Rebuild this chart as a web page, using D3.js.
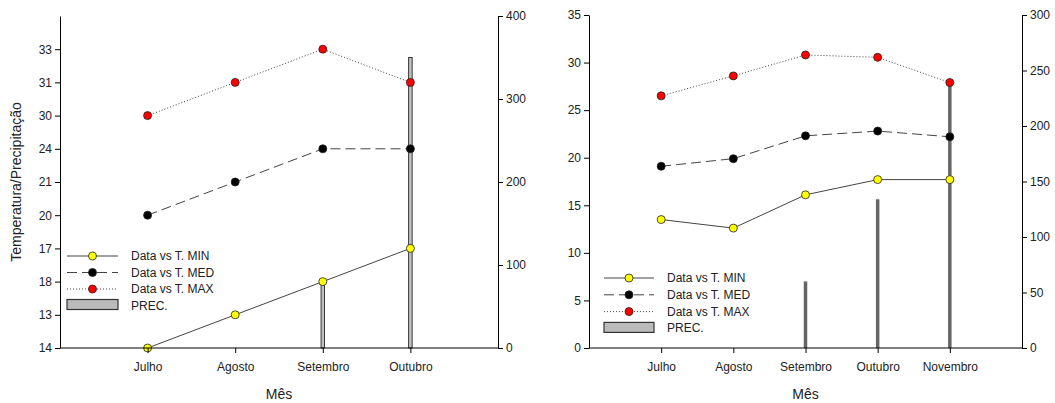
<!DOCTYPE html>
<html>
<head>
<meta charset="utf-8">
<script src="https://cdn.jsdelivr.net/npm/d3@7"></script>
<style>
  body { margin: 0; background: #fff; }
  svg text { font-family: 'Liberation Sans', Arial, sans-serif; fill: #222; }
</style>
</head>
<body>
<svg id="chart" width="1055" height="403"></svg>
<script>
// left panel: the temperature axis is categorical (labels in this order)
const months1 = ['Julho', 'Agosto', 'Setembro', 'Outubro']
const leftTicks1 = ['14', '13', '18', '17', '20', '21', '24', '30', '31', '33']
const tMin1 = ['14', '13', '18', '17']
const tMed1 = ['20', '21', '24', '24']
const tMax1 = ['30', '31', '33', '31']
const prec1 = [0, 0, 80, 350]
const precTicks1 = [0, 100, 200, 300, 400]

// right panel
const months2 = ['Julho', 'Agosto', 'Setembro', 'Outubro', 'Novembro']
const tMin2 = [13.5, 12.6, 16.1, 17.7, 17.7]
const tMed2 = [19.1, 19.9, 22.3, 22.8, 22.2]
const tMax2 = [26.5, 28.6, 30.8, 30.55, 27.9]
const prec2 = [0, 0, 60, 134, 240]
const tempTicks2 = [0, 5, 10, 15, 20, 25, 30, 35]
const precTicks2 = [0, 50, 100, 150, 200, 250, 300]

const legendLabels = ['Data vs T. MIN', 'Data vs T. MED', 'Data vs T. MAX', 'PREC.']

const svg = d3.select('#chart')

const seriesStyle = [
	{ fill: '#ffff00', dash: null },
	{ fill: '#000', dash: '10,5' },
	{ fill: '#ff0000', dash: '1,2' }
]

function panel(cfg) {
	let { x0, x1, top, bottom, months, series, yScale, yAxisGen, prec, precScale, precTicks, bar, legend } = cfg
	let x = d3.scaleLinear().domain([0, months.length + 1]).range([x0, x1])
	let g = svg.append('g')

	// bars (precipitation)
	g.selectAll('rect.bar').data(prec).join('rect')
		.attr('class', 'bar')
		.attr('x', (d, i) => x(i + 1) - bar.w / 2)
		.attr('width', bar.w)
		.attr('y', d => precScale(d))
		.attr('height', d => precScale(0) - precScale(d))
		.attr('fill', bar.fill)
		.attr('stroke', bar.stroke)
		.attr('stroke-width', bar.stroke === 'none' ? 0 : 0.8)
		.style('display', d => d > 0 ? null : 'none')

	// lines
	let line = d3.line().x((d, i) => x(i + 1)).y(d => d)
	series.forEach((s, k) => {
		let ys = s.map(yScale)
		g.append('path')
			.attr('d', line(ys))
			.attr('fill', 'none')
			.attr('stroke', '#444')
			.attr('stroke-width', 1)
			.attr('stroke-dasharray', seriesStyle[k].dash)
		g.selectAll(null).data(ys).join('circle')
			.attr('cx', (d, i) => x(i + 1))
			.attr('cy', d => d)
			.attr('r', 4)
			.attr('fill', seriesStyle[k].fill)
			.attr('stroke', '#222')
			.attr('stroke-width', 0.8)
	})

	// axes
	let gl = g.append('g').attr('transform', `translate(${x0},0)`).call(yAxisGen)
	let gx = g.append('g').attr('transform', `translate(0,${bottom})`)
		.call(d3.axisBottom(x).tickValues(d3.range(1, months.length + 1))
			.tickFormat((d) => months[d - 1]).tickSize(5).tickSizeOuter(0))
	let gr = g.append('g').attr('transform', `translate(${x1},0)`)
		.call(d3.axisRight(precScale).tickValues(precTicks).tickSize(5).tickSizeOuter(0))
	;[gl, gx, gr].forEach(a => {
		a.select('.domain').attr('stroke', '#000')
		a.selectAll('.tick line').attr('stroke', '#000')
		a.selectAll('.tick text').style('font-size', '12px').attr('fill', '#222')
	})
	gx.selectAll('.tick text').attr('dy', '1.25em')
	// x axis line spans whole width
	gx.select('.domain').attr('d', `M${x0},0H${x1}`)

	g.append('text')
		.attr('x', (x0 + x1) / 2).attr('y', 399)
		.attr('text-anchor', 'middle').style('font-size', '14px')
		.text('Mês')

	// legend
	let lg = g.append('g').attr('transform', `translate(${legend.x},${legend.y})`)
	legendLabels.forEach((lab, k) => {
		let ry = k * legend.dy
		if (k < 3) {
			lg.append('line').attr('x1', 0).attr('x2', legend.w).attr('y1', ry).attr('y2', ry)
				.attr('stroke', '#444').attr('stroke-dasharray', seriesStyle[k].dash)
			lg.append('circle').attr('cx', legend.w / 2).attr('cy', ry).attr('r', 4)
				.attr('fill', seriesStyle[k].fill).attr('stroke', '#222').attr('stroke-width', 0.8)
		} else {
			lg.append('rect').attr('x', 0).attr('y', ry - 6).attr('width', legend.w).attr('height', 10)
				.attr('fill', '#bbb').attr('stroke', '#333').attr('stroke-width', 1.2)
		}
		lg.append('text').attr('x', legend.w + 13).attr('y', ry + 4)
			.style('font-size', '12px').text(lab)
	})
}

// left panel
let top1 = 16, bottom1 = 348
let yCat1 = d3.scaleLinear().domain([0, leftTicks1.length]).range([bottom1, top1])
panel({
	x0: 60, x1: 498, top: top1, bottom: bottom1,
	months: months1,
	series: [tMin1, tMed1, tMax1],
	yScale: v => yCat1(leftTicks1.indexOf(v)),
	yAxisGen: d3.axisLeft(yCat1).tickValues(d3.range(leftTicks1.length))
		.tickFormat(i => leftTicks1[i]).tickSize(5).tickSizeOuter(0),
	prec: prec1,
	precScale: d3.scaleLinear().domain([0, 400]).range([bottom1, top1]),
	precTicks: precTicks1,
	bar: { w: 3.5, fill: '#c0c0c0', stroke: '#111' },
	legend: { x: 67, y: 256, dy: 16.5, w: 51 }
})
svg.append('text')
	.attr('transform', `translate(21,${(top1 + bottom1) / 2}) rotate(-90)`)
	.attr('text-anchor', 'middle').style('font-size', '14px')
	.text('Temperatura/Precipitação')

// right panel
let top2 = 15, bottom2 = 348
let yTemp2 = d3.scaleLinear().domain([0, 35]).range([bottom2, top2])
panel({
	x0: 589, x1: 1022, top: top2, bottom: bottom2,
	months: months2,
	series: [tMin2, tMed2, tMax2],
	yScale: yTemp2,
	yAxisGen: d3.axisLeft(yTemp2).tickValues(tempTicks2).tickSize(5).tickSizeOuter(0),
	prec: prec2,
	precScale: d3.scaleLinear().domain([0, 300]).range([bottom2, top2]),
	precTicks: precTicks2,
	bar: { w: 3.5, fill: '#666', stroke: 'none' },
	legend: { x: 604, y: 278, dy: 16.8, w: 50 }
})
</script>
</body>
</html>
